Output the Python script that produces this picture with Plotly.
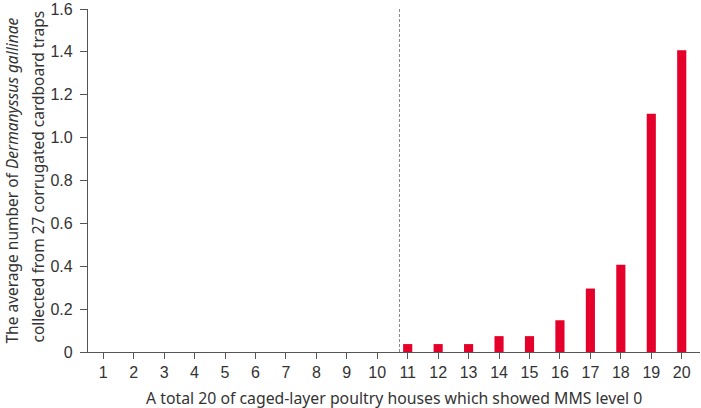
import plotly.graph_objects as go

# data
houses = list(range(1, 21))
avg_mites = [0, 0, 0, 0, 0, 0, 0, 0, 0, 0,
             0.037, 0.037, 0.037, 0.074, 0.074, 0.148, 0.296, 0.407, 1.111, 1.407]
y_ticks = [0, 0.2, 0.4, 0.6, 0.8, 1.0, 1.2, 1.4, 1.6]
y_tick_text = ['0', '0.2', '0.4', '0.6', '0.8', '1.0', '1.2', '1.4', '1.6']
split_at = 10.73

x_title = 'A total 20 of caged-layer poultry houses which showed MMS level 0'
y_title_1 = 'The average number of <i>Dermanyssus gallinae</i>'
y_title_2 = 'collected from 27 corrugated cardboard traps'

fig = go.Figure()
fig.add_trace(go.Bar(x=houses, y=avg_mites, width=0.3,
                     marker=dict(color='#e4002b', line=dict(width=0))))

fig.add_shape(type='line', x0=split_at, x1=split_at, y0=0, y1=1.6,
              xref='x', yref='y', line=dict(color='#888888', width=1, dash='3px,2px'))

title_font = dict(size=15.5, family='Noto Sans', color='#333333')
# axis titles as annotations so the line gap and position can be matched
fig.add_annotation(text=y_title_1, textangle=-90, xref='paper', yref='paper',
                   x=0, y=0.5, xanchor='center', yanchor='middle',
                   xshift=-77, yshift=0, showarrow=False, font=title_font)
fig.add_annotation(text=y_title_2, textangle=-90, xref='paper', yref='paper',
                   x=0, y=0.5, xanchor='center', yanchor='middle',
                   xshift=-51, yshift=4, showarrow=False, font=title_font)
fig.add_annotation(text=x_title, xref='paper', yref='paper',
                   x=0.5, y=0, xanchor='center', yanchor='middle',
                   xshift=0, yshift=-46, showarrow=False,
                   font=dict(size=15.8, family='Noto Sans', color='#333333'))

fig.update_layout(
    width=701, height=408,
    margin=dict(l=88, r=1, t=9, b=56),
    plot_bgcolor='white', paper_bgcolor='white',
    showlegend=False,
    font=dict(family='Liberation Sans, Arial', color='#333333', size=16),
)
fig.update_xaxes(
    range=[0.5, 20.6], tickvals=houses, automargin=False,
    showline=True, linecolor='#555555', linewidth=1.2,
    ticks='outside', ticklen=6, tickcolor='#555555',
    showgrid=False, zeroline=False,
    tickfont=dict(size=16, family='Liberation Sans, Arial', color='#333333'),
)
fig.update_yaxes(
    range=[0, 1.6], tickvals=y_ticks, ticktext=y_tick_text, automargin=False,
    showline=True, linecolor='#555555', linewidth=1.2,
    ticks='outside', ticklen=7, tickcolor='#555555', ticklabelstandoff=4,
    showgrid=False, zeroline=False,
    tickfont=dict(size=16, family='Liberation Sans, Arial', color='#333333'),
)

# page body has a default margin; drop it so the figure fills the window
fig.write_html("out.html", config={'displayModeBar': False},
               post_script="document.body.style.margin='0';")
